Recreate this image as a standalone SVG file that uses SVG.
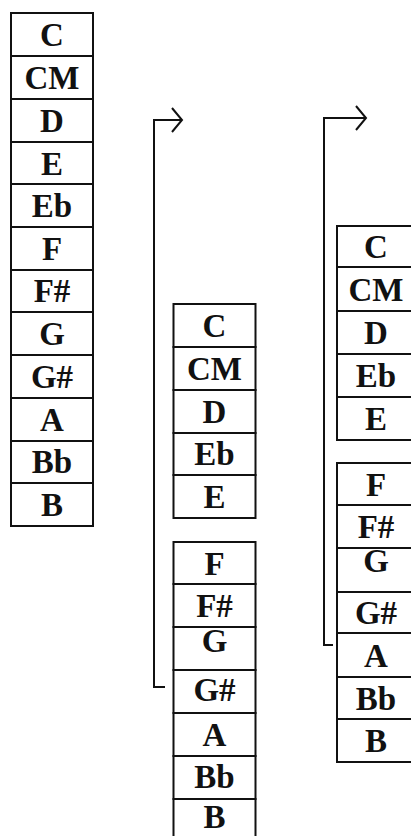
<svg xmlns="http://www.w3.org/2000/svg" width="411" height="836" viewBox="0 0 411 836">
<style>
.cell{fill:#fff;stroke:#111;stroke-width:2}
.t{font-family:"Liberation Serif","Times New Roman",serif;font-weight:bold;font-size:33px;fill:#111;text-anchor:middle}
.conn{fill:none;stroke:#111;stroke-width:2}
</style>
<defs>
<marker id="arr" markerWidth="14" markerHeight="28" refX="11" refY="13" orient="auto" markerUnits="userSpaceOnUse">
<path d="M1,1 L11,13 L1,25" fill="none" stroke="#111" stroke-width="2"/>
</marker>
</defs>
<rect width="411" height="836" fill="#fff"/>
<g id="connectors">
<path class="conn" d="M165,687 H154 V120 H182" marker-end="url(#arr)"/>
<path class="conn" d="M333,645 H324 V118 H366" marker-end="url(#arr)"/>
</g>
<g id="col1">
<rect class="cell" x="11" y="13" width="82" height="43"/><text class="t" x="52" y="46">C</text>
<rect class="cell" x="11" y="56" width="82" height="43"/><text class="t" x="52" y="89">CM</text>
<rect class="cell" x="11" y="99" width="82" height="43"/><text class="t" x="52" y="132">D</text>
<rect class="cell" x="11" y="142" width="82" height="42"/><text class="t" x="52" y="175">E</text>
<rect class="cell" x="11" y="184" width="82" height="43"/><text class="t" x="52" y="217">Eb</text>
<rect class="cell" x="11" y="227" width="82" height="43"/><text class="t" x="52" y="260">F</text>
<rect class="cell" x="11" y="270" width="82" height="42"/><text class="t" x="52" y="302">F#</text>
<rect class="cell" x="11" y="312" width="82" height="43"/><text class="t" x="52" y="345">G</text>
<rect class="cell" x="11" y="355" width="82" height="43"/><text class="t" x="52" y="388">G#</text>
<rect class="cell" x="11" y="398" width="82" height="43"/><text class="t" x="52" y="431">A</text>
<rect class="cell" x="11" y="441" width="82" height="42"/><text class="t" x="52" y="473">Bb</text>
<rect class="cell" x="11" y="483" width="82" height="43"/><text class="t" x="52" y="516">B</text>
</g>
<g id="col2-top">
<rect class="cell" x="173.5" y="304" width="82" height="43"/><text class="t" x="214.5" y="337">C</text>
<rect class="cell" x="173.5" y="347" width="82" height="43"/><text class="t" x="214.5" y="380">CM</text>
<rect class="cell" x="173.5" y="390" width="82" height="43"/><text class="t" x="214.5" y="423">D</text>
<rect class="cell" x="173.5" y="433" width="82" height="42"/><text class="t" x="214.5" y="465">Eb</text>
<rect class="cell" x="173.5" y="475" width="82" height="43"/><text class="t" x="214.5" y="508">E</text>
</g>
<g id="col2-bottom">
<rect class="cell" x="173.5" y="542" width="82" height="42"/><text class="t" x="214.5" y="575">F</text>
<rect class="cell" x="173.5" y="584" width="82" height="43"/><text class="t" x="214.5" y="617">F#</text>
<rect class="cell" x="173.5" y="627" width="82" height="43"/><text class="t" x="214.5" y="652">G</text>
<rect class="cell" x="173.5" y="670" width="82" height="43"/><text class="t" x="214.5" y="701">G#</text>
<rect class="cell" x="173.5" y="713" width="82" height="43"/><text class="t" x="214.5" y="746">A</text>
<rect class="cell" x="173.5" y="756" width="82" height="43"/><text class="t" x="214.5" y="788">Bb</text>
<rect class="cell" x="173.5" y="799" width="82" height="43"/><text class="t" x="214.5" y="828">B</text>
</g>
<g id="col3-top">
<rect class="cell" x="337" y="226" width="80" height="41"/><text class="t" x="376" y="258">C</text>
<rect class="cell" x="337" y="267" width="80" height="44"/><text class="t" x="376" y="301">CM</text>
<rect class="cell" x="337" y="311" width="80" height="43"/><text class="t" x="376" y="344">D</text>
<rect class="cell" x="337" y="354" width="80" height="43"/><text class="t" x="376" y="387">Eb</text>
<rect class="cell" x="337" y="397" width="80" height="43"/><text class="t" x="376" y="430">E</text>
</g>
<g id="col3-bottom">
<rect class="cell" x="337" y="463" width="80" height="42"/><text class="t" x="376" y="496">F</text>
<rect class="cell" x="337" y="505" width="80" height="43"/><text class="t" x="376" y="538">F#</text>
<rect class="cell" x="337" y="548" width="80" height="44"/><text class="t" x="376" y="572">G</text>
<rect class="cell" x="337" y="592" width="80" height="41"/><text class="t" x="376" y="624">G#</text>
<rect class="cell" x="337" y="633" width="80" height="44"/><text class="t" x="376" y="667">A</text>
<rect class="cell" x="337" y="677" width="80" height="42"/><text class="t" x="376" y="710">Bb</text>
<rect class="cell" x="337" y="719" width="80" height="43"/><text class="t" x="376" y="752">B</text>
</g>
</svg>
